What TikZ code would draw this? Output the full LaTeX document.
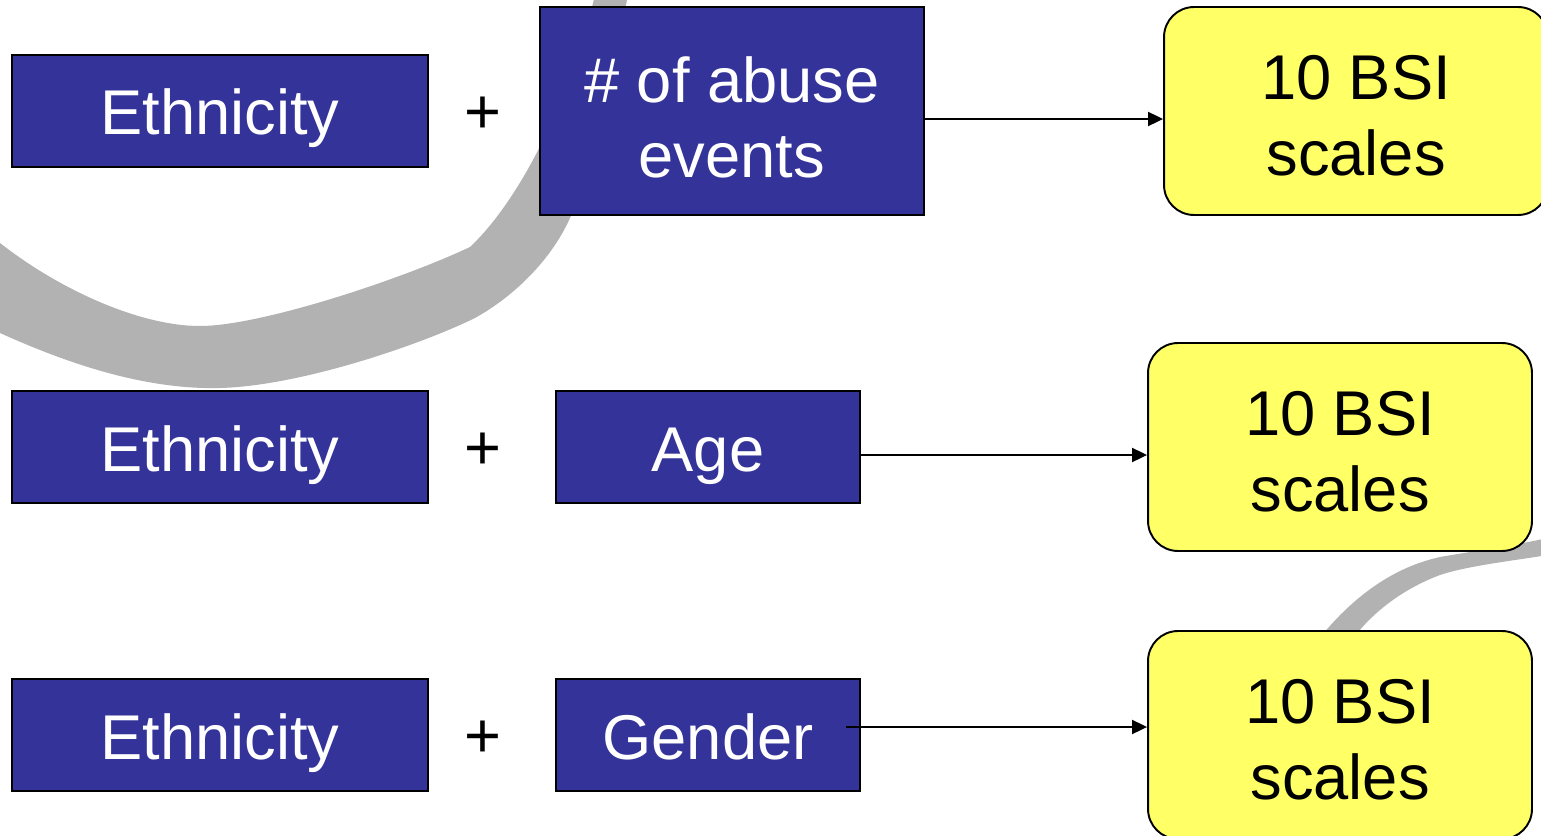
\documentclass[tikz,border=0pt]{standalone}
\usepackage{fontspec}
\setmainfont{Liberation Sans}
\usetikzlibrary{arrows.meta,calc}
\definecolor{boxblue}{RGB}{51,51,153}
\definecolor{bsiyellow}{RGB}{255,255,102}
\definecolor{swooshgray}{RGB}{178,178,178}

\begin{document}
\begin{tikzpicture}[x=0.02cm, y=-0.02cm,
    bigfont/.style={font=\fontsize{36}{43}\selectfont},
    varbox/.style={draw, rectangle, fill=boxblue, text=white, line width=1.1pt,
        inner sep=0pt, minimum height=2.24cm, text height=0.96cm,
        text depth=0pt, align=center, bigfont},
    bsibox/.style={draw, rectangle, rounded corners=0.6cm, fill=bsiyellow,
        line width=1.1pt, inner sep=0pt, minimum width=7.68cm,
        minimum height=4.16cm, text height=2.58cm, text depth=0pt,
        align=center, bigfont},
    flow/.style={line width=1.1pt, -{Triangle[length=0.3cm,width=0.28cm]}}]
    \useasboundingbox (0,0) rectangle (1541,835);

    % Background swooshes
    \fill[swooshgray] (595,-5) .. controls (570,100) and (520,200) .. (470,247)
        .. controls (400,280) and (260,326) .. (200,326)
        .. controls (140,326) and (60,290) .. (0,243) -- (-60,200)
        -- (-60,300) -- (0,333)
        .. controls (60,360) and (140,390) .. (220,388)
        .. controls (300,386) and (420,345) .. (475,318)
        .. controls (520,293) and (560,250) .. (575,205)
        .. controls (600,130) and (615,60) .. (628,-5) -- cycle;
    \fill[swooshgray] (1318,640) .. controls (1350,600) and (1390,568) .. (1440,557)
        .. controls (1480,550) and (1520,545) .. (1560,535) -- (1560,553)
        .. controls (1520,560) and (1470,565) .. (1440,575)
        .. controls (1400,590) and (1370,615) .. (1352,640) -- cycle;

    % Row 1
    \node[varbox, minimum width=8.32cm] (eth1) at (220,111) {Ethnicity};
    \node[bigfont] (plus1) at (483,115) {+};
    \node[varbox, minimum width=7.68cm, minimum height=4.16cm,
        text height=2.68cm] (abuse) at (732,111) {\# of abuse\\events};
    \node[bsibox] (bsi1) at (1356,111) {10 BSI\\scales};

    % Row 2
    \node[varbox, minimum width=8.32cm] (eth2) at (220,447) {Ethnicity};
    \node[bigfont] (plus2) at (483,451) {+};
    \node[varbox, minimum width=6.08cm] (age) at (708,447) {Age};
    \node[bsibox] (bsi2) at (1340,447) {10 BSI\\scales};

    % Row 3
    \node[varbox, minimum width=8.32cm] (eth3) at (220,735) {Ethnicity};
    \node[bigfont] (plus3) at (483,739) {+};
    \node[varbox, minimum width=6.08cm] (gender) at (708,735) {Gender};
    \node[bsibox] (bsi3) at (1340,735) {10 BSI\\scales};

    % Arrows
    \coordinate (a1) at ($(abuse.east)+(0,8)$);
    \coordinate (a2) at ($(age.east)+(0,8)$);
    \coordinate (a3) at ($(gender.east)+(-15,-8)$);
    \draw[flow] (a1) -- (a1 -| bsi1.west);
    \draw[flow] (a2) -- (a2 -| bsi2.west);
    \draw[flow] (a3) -- (a3 -| bsi3.west);
\end{tikzpicture}
\end{document}
